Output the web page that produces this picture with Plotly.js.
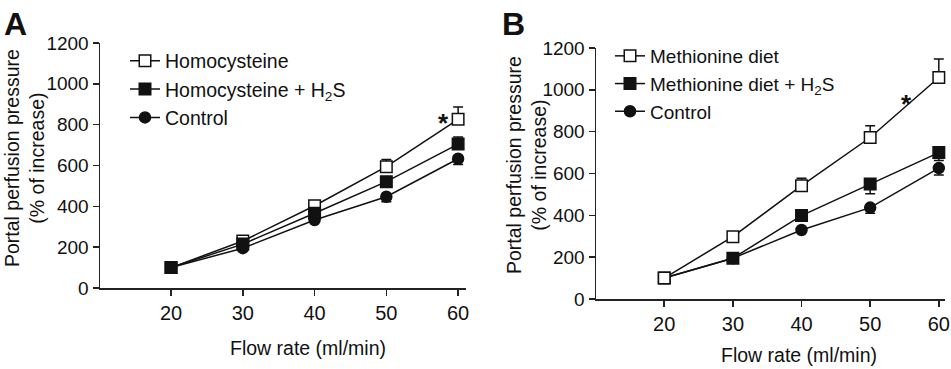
<!DOCTYPE html>
<html>
<head>
<meta charset="utf-8">
<script src="https://cdn.plot.ly/plotly-3.0.1.min.js"></script>
<style>html,body{margin:0;padding:0;background:#fff;}#chart{width:951px;height:369px;}</style>
</head>
<body>
<div id="chart"></div>
<script>
// ---- Data ----
const flowRate = [20, 30, 40, 50, 60];

// Panel A
const homocysteine = [100, 230, 403, 594, 826];
const homocysteineErrUp = [0, 10, 15, 35, 60];
const homocysteineH2S = [100, 215, 366, 521, 705];
const homocysteineH2SErrUp = [0, 0, 0, 0, 35];
const controlA = [100, 195, 333, 447, 633];
const controlAErrDown = [0, 0, 0, 25, 28];

// Panel B
const methionine = [100, 298, 542, 772, 1059];
const methionineErrUp = [0, 0, 35, 56, 88];
const methionineH2S = [100, 195, 399, 550, 700];
const methionineH2SErrDown = [0, 0, 0, 47, 38];
const controlB = [100, 195, 330, 437, 626];
const controlBErrDown = [0, 0, 0, 27, 33];

const legendA = ['Homocysteine', 'Homocysteine + H<sub>2</sub>S', 'Control'];
const legendB = ['Methionine diet', 'Methionine diet + H<sub>2</sub>S', 'Control'];
const yTicks = [0, 200, 400, 600, 800, 1000, 1200];

// ---- Styles ----
const FONT = 'Arial, "Liberation Sans", Helvetica, sans-serif';
const zeros = [0, 0, 0, 0, 0];
function errBar(up, down) {
  return {type: 'data', symmetric: false, array: up, arrayminus: down,
          color: '#111', thickness: 1.5, width: 5};
}
function tr(x, y, name, symbol, fill, err, xa, ya, leg, rank) {
  return {
    x: x, y: y, name: name, type: 'scatter', mode: 'lines+markers',
    xaxis: xa, yaxis: ya, legend: leg, legendrank: rank,
    line: {color: '#111', width: 1.5},
    marker: {symbol: symbol, size: symbol === 'circle' ? 11 : 11.5, color: fill,
             line: {color: '#111', width: 1.5}},
    error_y: err, cliponaxis: false
  };
}

const traces = [
  tr(flowRate, controlA, legendA[2], 'circle', '#111', errBar(zeros, controlAErrDown), 'x', 'y', 'legend', 3),
  tr(flowRate, homocysteine, legendA[0], 'square', '#fff', errBar(homocysteineErrUp, zeros), 'x', 'y', 'legend', 1),
  tr(flowRate, homocysteineH2S, legendA[1], 'square', '#111', errBar(homocysteineH2SErrUp, zeros), 'x', 'y', 'legend', 2),
  tr(flowRate, controlB, legendB[2], 'circle', '#111', errBar(zeros, controlBErrDown), 'x2', 'y2', 'legend2', 3),
  tr(flowRate, methionineH2S, legendB[1], 'square', '#111', errBar(zeros, methionineH2SErrDown), 'x2', 'y2', 'legend2', 2),
  tr(flowRate, methionine, legendB[0], 'square', '#fff', errBar(methionineErrUp, zeros), 'x2', 'y2', 'legend2', 1)
];

function xAxis(domain, range, anchor) {
  return {domain: domain, range: range, anchor: anchor, tickvals: flowRate,
          showline: true, linecolor: '#222', linewidth: 1.5, ticks: 'outside',
          ticklen: 6, tickwidth: 1.5, tickcolor: '#222', showgrid: false, zeroline: false,
          tickfont: {family: FONT, size: 20, color: '#111'}, fixedrange: true};
}
function yAxis(domain, anchor) {
  return {domain: domain, range: [0, 1200], anchor: anchor, tickvals: yTicks,
          showline: true, linecolor: '#222', linewidth: 1.5, ticks: 'outside',
          ticklen: 6, tickwidth: 1.5, tickcolor: '#222', showgrid: false, zeroline: false,
          tickfont: {family: FONT, size: 19, color: '#111'}, fixedrange: true};
}

const W = 951, H = 369;
const px = v => v / W, py = v => 1 - v / H;

const layout = {
  width: W, height: H,
  margin: {l: 0, r: 0, t: 0, b: 0},
  paper_bgcolor: '#fff', plot_bgcolor: '#fff',
  font: {family: FONT, color: '#111'},
  showlegend: true,
  xaxis: xAxis([px(100), px(466)], [10.1, 61.1], 'y'),
  yaxis: yAxis([py(288), py(43)], 'x'),
  xaxis2: xAxis([px(596), px(945)], [10.06, 60.9], 'y2'),
  yaxis2: yAxis([py(299), py(48)], 'x2'),
  legend: {x: px(125), y: py(41.5), xanchor: 'left', yanchor: 'top',
           font: {family: FONT, size: 19.5, color: '#111'}, bgcolor: 'rgba(0,0,0,0)',
           traceorder: 'normal', tracegroupgap: 0},
  legend2: {x: px(610), y: py(37), xanchor: 'left', yanchor: 'top',
            font: {family: FONT, size: 19, color: '#111'}, bgcolor: 'rgba(0,0,0,0)',
            traceorder: 'normal', tracegroupgap: 0},
  annotations: [
    {text: '<b>A</b>', xref: 'paper', yref: 'paper', x: px(2), y: py(4), xanchor: 'left', yanchor: 'top',
     showarrow: false, font: {family: FONT, size: 32, color: '#111'}},
    {text: '<b>B</b>', xref: 'paper', yref: 'paper', x: px(500), y: py(4), xanchor: 'left', yanchor: 'top',
     showarrow: false, font: {family: FONT, size: 32, color: '#111'}},
    {text: 'Portal perfusion pressure<br>(% of increase)', xref: 'paper', yref: 'paper',
     x: px(24), y: py(158), xanchor: 'center', yanchor: 'middle', textangle: -90,
     showarrow: false, font: {family: FONT, size: 19.5, color: '#111'}},
    {text: 'Portal perfusion pressure<br>(% of increase)', xref: 'paper', yref: 'paper',
     x: px(526), y: py(165), xanchor: 'center', yanchor: 'middle', textangle: -90,
     showarrow: false, font: {family: FONT, size: 19.5, color: '#111'}},
    {text: 'Flow rate (ml/min)', xref: 'paper', yref: 'paper', x: px(308), y: py(348),
     xanchor: 'center', yanchor: 'middle', showarrow: false, font: {family: FONT, size: 19.5, color: '#111'}},
    {text: 'Flow rate (ml/min)', xref: 'paper', yref: 'paper', x: px(799), y: py(355),
     xanchor: 'center', yanchor: 'middle', showarrow: false, font: {family: FONT, size: 19.5, color: '#111'}},
    {text: '<b>*</b>', xref: 'x', yref: 'y', x: 57.9, y: 808, xanchor: 'center', yanchor: 'middle',
     showarrow: false, font: {family: FONT, size: 26, color: '#111'}},
    {text: '<b>*</b>', xref: 'x2', yref: 'y2', x: 55.3, y: 930, xanchor: 'center', yanchor: 'middle',
     showarrow: false, font: {family: FONT, size: 26, color: '#111'}}
  ]
};

Plotly.newPlot('chart', traces, layout, {displayModeBar: false, staticPlot: true});
</script>
</body>
</html>
